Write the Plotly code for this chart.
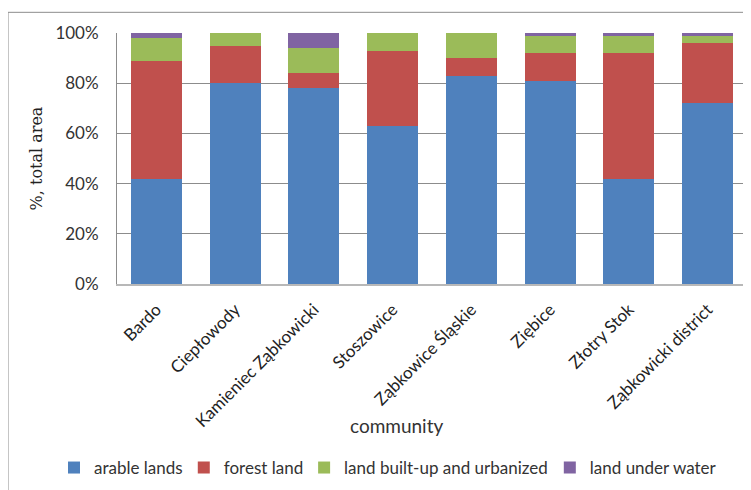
import plotly.graph_objects as go

communities = ["Bardo", "Ciepłowody", "Kamieniec Ząbkowicki", "Stoszowice",
               "Ząbkowice Śląskie", "Ziębice", "Złotry Stok", "Ząbkowicki district"]
arable = [42, 80, 78, 63, 83, 81, 42, 72]
forest = [47, 15, 6, 30, 7, 11, 50, 24]
built_up = [9, 5, 10, 7, 10, 7, 7, 3]
water = [2, 0, 6, 0, 0, 1, 1, 1]
series_names = ["arable lands", "forest land", "land built-up and urbanized", "land under water"]
colors = ["#4F81BD", "#C0504D", "#9BBB59", "#8064A2"]
y_ticks = [0, 20, 40, 60, 80, 100]
y_tick_labels = ["0%", "20%", "40%", "60%", "80%", "100%"]

FONT = "Lato"
SERIF = "DejaVu Serif"
legend_ids = ["legend", "legend2", "legend3", "legend4"]
legend_x = [-0.10, 0.106, 0.297, 0.687]

fig = go.Figure()
for name, vals, col, lid in zip(series_names, [arable, forest, built_up, water], colors, legend_ids):
    fig.add_trace(go.Bar(x=communities, y=vals, name=name, legend=lid,
                         marker=dict(color=col, line=dict(width=0))))

legend_common = dict(orientation="h", y=-0.733, xanchor="left", yanchor="middle",
                     font=dict(family=FONT, size=17, color="#333333"),
                     itemwidth=30, bgcolor="rgba(0,0,0,0)")
layout_legends = {lid: dict(x=lx, **legend_common) for lid, lx in zip(legend_ids, legend_x)}

fig.update_layout(
    barmode="stack",
    bargap=0.355,
    width=743, height=482,
    paper_bgcolor="white", plot_bgcolor="white",
    margin=dict(l=109, r=4, t=25, b=202),
    font=dict(family=FONT, color="#222222", size=16),
    showlegend=True,
    **layout_legends,
)
fig.update_xaxes(
    tickangle=-45, tickfont=dict(family=FONT, size=17, color="#222222"),
    ticklabelstandoff=7,
    showline=True, linecolor="#b8b8b8", linewidth=2, ticks="",
    automargin=False, showgrid=False,
)
fig.update_yaxes(
    range=[0, 100], tickvals=y_ticks, ticktext=y_tick_labels,
    tickfont=dict(family=FONT, size=17, color="#333333"),
    ticklabelstandoff=14,
    showgrid=True, gridcolor="#8c8c8c", gridwidth=1,
    showline=True, linecolor="#8c8c8c", linewidth=1,
    zeroline=False, automargin=False, ticks="",
    title=dict(text="%, total area", font=dict(family=SERIF, size=16, color="#222222"),
               standoff=8),
)
fig.add_annotation(text="community", xref="paper", yref="paper", x=0.443, y=-0.565,
                   xanchor="center", yanchor="middle",
                   showarrow=False, font=dict(family=FONT, size=19, color="#333333"))
fig.add_shape(type="rect", xref="paper", yref="paper", x0=-0.173, y0=-1.0, x1=1.2, y1=1.0824,
              line=dict(color="#8c8c8c", width=1), fillcolor="rgba(0,0,0,0)", layer="below")
fig.write_html("out.html")
